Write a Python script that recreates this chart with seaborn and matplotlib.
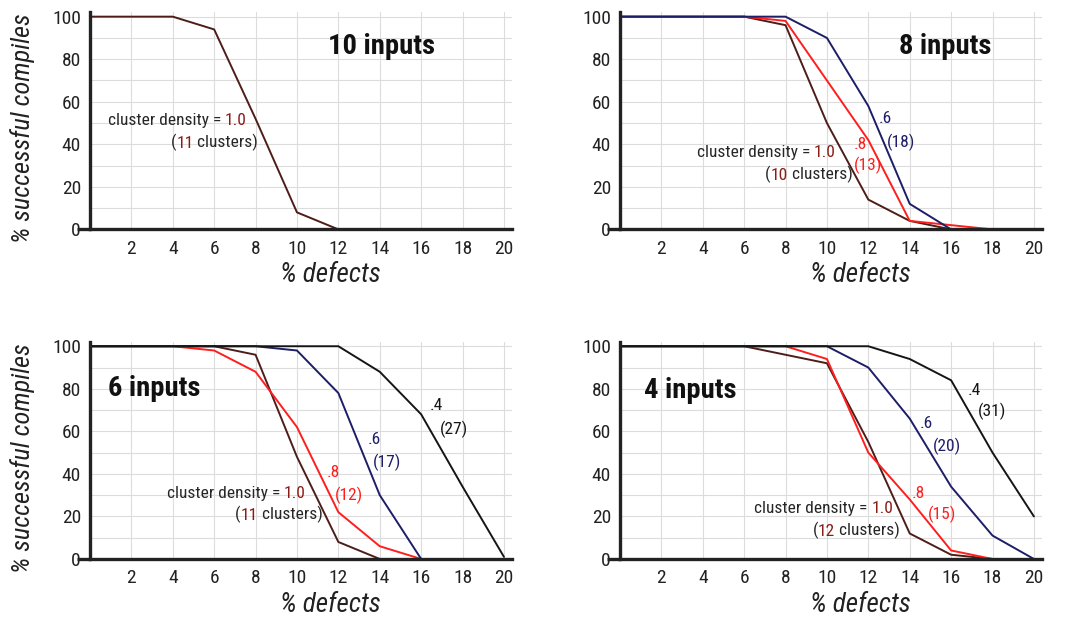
import pandas as pd
import matplotlib.pyplot as plt
import seaborn as sns
from matplotlib import font_manager

sns.set_theme(style="white")

# pick a narrow sans face if one is installed
fonts = font_manager.fontManager.ttflist
names = {f.name for f in fonts}
family = "DejaVu Sans"
if "Liberation Sans Narrow" in names:
    family = "Liberation Sans Narrow"
elif "Roboto Condensed" in names:
    family = "Roboto Condensed"
elif any(f.name == "DejaVu Sans" and "condensed" in str(f.stretch) for f in fonts):
    plt.rcParams["font.stretch"] = "condensed"
elif "Roboto" in names:
    family = "Roboto"
plt.rcParams["font.family"] = [family, "DejaVu Sans"]

# % defects (x) sampled every 2 units
defects = [0, 2, 4, 6, 8, 10, 12, 14, 16, 18, 20]

# % successful compiles, one list per (inputs, cluster density)
in10_d10 = [100, 100, 100, 94, 52, 8, 0]

in8_d10 = [100, 100, 100, 100, 96, 50, 14, 4, 0]
in8_d08 = [100, 100, 100, 100, 98, 70, 42, 4, 2, 0]
in8_d06 = [100, 100, 100, 100, 100, 90, 58, 12, 0]

in6_d10 = [100, 100, 100, 100, 96, 48, 8, 0]
in6_d08 = [100, 100, 100, 98, 88, 62, 22, 6, 0]
in6_d06 = [100, 100, 100, 100, 100, 98, 78, 30, 0]
in6_d04 = [100, 100, 100, 100, 100, 100, 100, 88, 68, 34, 1]

in4_d10 = [100, 100, 100, 100, 96, 92, 55, 12, 2, 0]
in4_d08 = [100, 100, 100, 100, 100, 94, 50, 28, 4, 0]
in4_d06 = [100, 100, 100, 100, 100, 100, 90, 66, 34, 11, 0]
in4_d04 = [100, 100, 100, 100, 100, 100, 100, 94, 84, 50, 20]

panels = [
    ("10 inputs", {"1.0": in10_d10}),
    ("8 inputs", {"1.0": in8_d10, ".8": in8_d08, ".6": in8_d06}),
    ("6 inputs", {"1.0": in6_d10, ".8": in6_d08, ".6": in6_d06, ".4": in6_d04}),
    ("4 inputs", {"1.0": in4_d10, ".8": in4_d08, ".6": in4_d06, ".4": in4_d04}),
]
cluster_counts = ["11", "10", "11", "12"]
other_labels = [
    {},
    {".8": "(13)", ".6": "(18)"},
    {".8": "(12)", ".6": "(17)", ".4": "(27)"},
    {".8": "(15)", ".6": "(20)", ".4": "(31)"},
]

BROWN = "#4e1d19"
BROWN_TXT = "#8a1c16"
RED = "#ff1e1e"
NAVY = "#1d1d68"
BLACK = "#151515"
TXT = "#262626"
palette = {"1.0": BROWN, ".8": RED, ".6": NAVY, ".4": BLACK}

# annotation placement (data coords): title, density label, clusters label, per-curve labels
title_pos = [(14.1, 86), (15.7, 86), (3.1, 80), (3.4, 79)]
dens_pos = [(0.85, 51), (3.7, 36), (3.7, 31), (6.5, 23.5)]
clus_pos = [(3.9, 41), (7.0, 26), (7.0, 21), (9.3, 13.4)]
curve_pos = [
    {},
    {".8": [(11.3, 40), (11.3, 30)], ".6": [(12.5, 52), (12.9, 41)]},
    {".8": [(11.45, 40.5), (11.85, 30)], ".6": [(13.4, 56), (13.65, 45.6)],
     ".4": [(16.4, 72), (16.9, 61)]},
    {".8": [(14.1, 31), (14.9, 21)], ".6": [(14.5, 63.6), (15.1, 53)],
     ".4": [(16.8, 79), (17.3, 69.6)]},
]
ax_rects = [
    [0.0833, 0.630, 0.391, 0.350],
    [0.574, 0.630, 0.391, 0.350],
    [0.0833, 0.0984, 0.391, 0.350],
    [0.574, 0.0984, 0.391, 0.350],
]


def multi_text(ax, x, y, parts, size=12.5):
    t = ax.text(x, y, parts[0][0], color=parts[0][1], fontsize=size, va="center", ha="left")
    for s, c in parts[1:]:
        t = ax.annotate(s, xy=(1, 0), xycoords=t, va="bottom", ha="left",
                        color=c, fontsize=size)


fig = plt.figure(figsize=(10.8, 6.2), dpi=100)

for i, (title, series) in enumerate(panels):
    ax = fig.add_axes(ax_rects[i])
    rows = []
    for dens, vals in series.items():
        for xv, yv in zip(defects, vals):
            rows.append({"defects": xv, "compiles": yv, "density": dens})
    df = pd.DataFrame(rows)
    sns.lineplot(data=df, x="defects", y="compiles", hue="density", palette=palette,
                 estimator=None, sort=False, legend=False, lw=1.4, ax=ax)

    ax.set_xlim(0, 20.4)
    ax.set_ylim(0, 102)
    ax.set_xticks(range(0, 21, 2))
    ax.set_xticklabels([""] + [str(v) for v in range(2, 21, 2)])
    ax.set_xticks(range(1, 21, 2), minor=True)
    ax.set_yticks(range(0, 101, 20))
    ax.set_yticks(range(10, 101, 20), minor=True)
    ax.tick_params(axis="both", which="both", direction="inout", length=9, width=2,
                   color="#222222", labelsize=14, labelcolor="#222222")
    ax.tick_params(axis="x", pad=3)
    ax.tick_params(axis="y", pad=2)
    ax.grid(axis="x", which="major", color="#dcdcdc", lw=0.8)
    ax.grid(axis="y", which="both", color="#dcdcdc", lw=0.8)
    for side in ["top", "right"]:
        ax.spines[side].set_visible(False)
    for side in ["left", "bottom"]:
        ax.spines[side].set_linewidth(2.4)
        ax.spines[side].set_color("#222222")
    ax.plot([-0.03, 0], [0, 0], transform=ax.transAxes, color="#222222", lw=2.4,
            clip_on=False, solid_capstyle="butt")

    ax.set_xlabel("% defects", fontsize=19.5, style="italic", color="#222222")
    ax.xaxis.set_label_coords(0.57, -0.15)
    if i % 2 == 0:
        ax.set_ylabel("% successful compiles", fontsize=19, style="italic", color="#222222")
        ax.yaxis.set_label_coords(-0.13, 0.465)
    else:
        ax.set_ylabel("")

    tx, ty = title_pos[i]
    ax.text(tx, ty, title, fontsize=20.5, fontweight="bold", ha="center", va="center",
            color="#111111")

    dx, dy = dens_pos[i]
    multi_text(ax, dx, dy, [("cluster density = ", TXT), ("1.0", BROWN_TXT)])
    cx, cy = clus_pos[i]
    multi_text(ax, cx, cy, [("(", TXT), (cluster_counts[i], BROWN_TXT), (" clusters)", TXT)])

    for dens, (p1, p2) in curve_pos[i].items():
        col = palette[dens]
        ax.text(p1[0], p1[1], dens, fontsize=12.5, color=col, va="center", ha="left")
        ax.text(p2[0], p2[1], other_labels[i][dens], fontsize=12.5, color=col,
                va="center", ha="left")

plt.savefig("out.png", dpi=100)
